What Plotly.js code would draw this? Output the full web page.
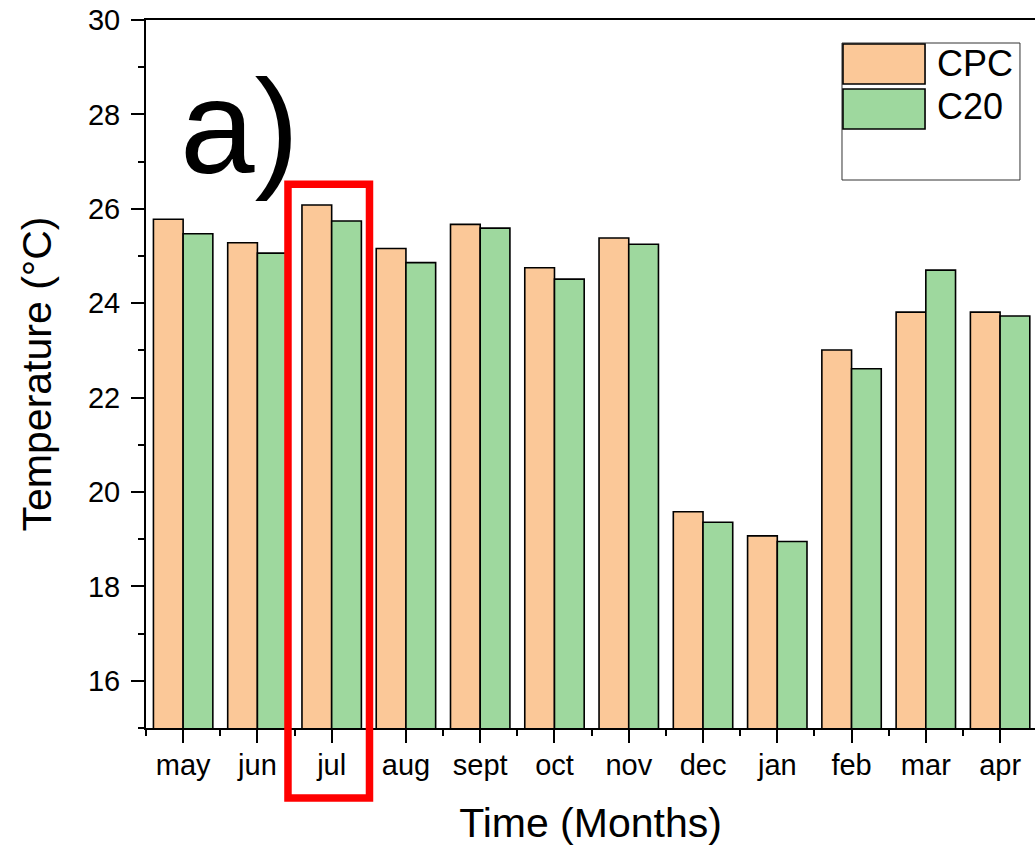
<!DOCTYPE html>
<html>
<head>
<meta charset="utf-8">
<script src="https://cdn.plot.ly/plotly-3.0.1.min.js"></script>
<style>html,body{margin:0;padding:0;overflow:hidden;background:#fff;}</style>
</head>
<body>
<div id="chart" style="width:1035px;height:846px;"></div>
<script>
const months = ["may","jun","jul","aug","sept","oct","nov","dec","jan","feb","mar","apr"];
const cpc = [25.78, 25.28, 26.08, 25.16, 25.67, 24.75, 25.38, 19.58, 19.07, 23.01, 23.81, 23.81];
const c20 = [25.47, 25.06, 25.74, 24.86, 25.59, 24.51, 25.25, 19.36, 18.95, 22.61, 24.70, 23.73];
const yTicks = [16, 18, 20, 22, 24, 26, 28, 30];

const idx = months.map((_, i) => i);
const font = "Liberation Sans, Arial, sans-serif";
const orange = "#FBC898";
const green = "#9ED89E";

const traces = [
  {type: "bar", name: "CPC", x: idx, y: cpc, marker: {color: orange, line: {color: "#000", width: 1.6}}},
  {type: "bar", name: "C20", x: idx, y: c20, marker: {color: green, line: {color: "#000", width: 1.6}}}
];

const layout = {
  width: 1035, height: 846,
  margin: {l: 146, r: 0, t: 20, b: 118},
  paper_bgcolor: "#fff", plot_bgcolor: "#fff",
  barmode: "group", bargap: 0.2, bargroupgap: 0,
  showlegend: false,
  font: {family: font, color: "#000"},
  xaxis: {
    range: [-0.5, 11.47],
    tickmode: "array", tickvals: idx, ticktext: months,
    ticks: "outside", ticklen: 13, tickwidth: 2, tickcolor: "#000",
    minor: {tickmode: "linear", tick0: 0.5, dtick: 1, ticks: "outside", ticklen: 6, tickwidth: 2, tickcolor: "#000"},
    showline: true, linecolor: "#000", linewidth: 2, mirror: true,
    showgrid: false, zeroline: false,
    tickfont: {size: 29, family: font},
    ticklabelstandoff: -3,
    title: {text: "Time (Months)", font: {size: 41, family: font}, standoff: 30}
  },
  yaxis: {
    range: [15, 30],
    tickmode: "array", tickvals: yTicks,
    ticks: "outside", ticklen: 13, tickwidth: 2, tickcolor: "#000",
    minor: {tickmode: "linear", tick0: 15, dtick: 1, ticks: "outside", ticklen: 6, tickwidth: 2, tickcolor: "#000"},
    showline: true, linecolor: "#000", linewidth: 2, mirror: false,
    showgrid: false, zeroline: false,
    tickfont: {size: 29, family: font},
    ticklabelstandoff: 5,
    title: {text: "Temperature (°C)", font: {size: 41, family: font}, standoff: 24}
  },
  shapes: [
    {type: "rect", xref: "paper", yref: "paper", x0: 0.1597, x1: 0.2514, y0: -0.0989, y1: 0.768,
     line: {color: "#FF0000", width: 7.5}, fillcolor: "rgba(0,0,0,0)", layer: "above"},
    {type: "rect", xref: "paper", yref: "paper", x0: 0.7829, x1: 0.9831, y0: 0.774, y1: 0.9675,
     line: {color: "#333", width: 1}, fillcolor: "#fff", layer: "above"},
    {type: "rect", xref: "paper", yref: "paper", x0: 0.7840, x1: 0.8763, y0: 0.9096, y1: 0.9661,
     line: {color: "#000", width: 1.6}, fillcolor: orange, layer: "above"},
    {type: "rect", xref: "paper", yref: "paper", x0: 0.7840, x1: 0.8763, y0: 0.8460, y1: 0.9025,
     line: {color: "#000", width: 1.6}, fillcolor: green, layer: "above"}
  ],
  annotations: [
    {text: "a)", xref: "paper", yref: "paper", x: 0.036, y: 0.85, xanchor: "left", yanchor: "middle",
     showarrow: false, font: {size: 134, family: font, color: "#000"}},
    {text: traces[0].name, xref: "paper", yref: "paper", x: 0.8875, y: 0.9379, xanchor: "left", yanchor: "middle",
     showarrow: false, font: {size: 36, family: font, color: "#000"}},
    {text: traces[1].name, xref: "paper", yref: "paper", x: 0.8875, y: 0.8780, xanchor: "left", yanchor: "middle",
     showarrow: false, font: {size: 36, family: font, color: "#000"}}
  ]
};

Plotly.newPlot("chart", traces, layout, {displayModeBar: false, responsive: false});
</script>
</body>
</html>
